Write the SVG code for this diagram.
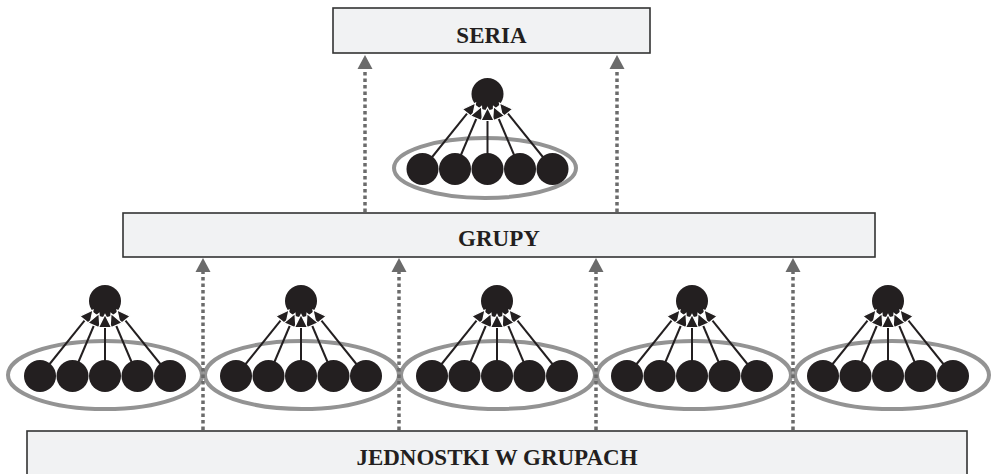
<svg xmlns="http://www.w3.org/2000/svg" xmlns:xlink="http://www.w3.org/1999/xlink" width="995" height="474" viewBox="0 0 995 474">
  <style>
    .box { fill: #f1f2f3; stroke: #333333; stroke-width: 1.6; }
    .label { font-family: "Liberation Serif", "Times New Roman", serif; font-weight: bold; font-size: 23px; fill: #231f20; text-anchor: middle; }
    .flow { stroke: #6b6b6b; stroke-width: 3.5; stroke-dasharray: 3.5 3; fill: none; }
    .flowhead { fill: #6b6b6b; }
    .ring { fill: none; stroke: #939393; stroke-width: 4; }
    .dot { fill: #231f20; }
    .link { stroke: #231f20; stroke-width: 2; }
    .head { fill: #231f20; stroke: #ffffff; stroke-width: 1.2; stroke-linejoin: miter; }
  </style>
  <defs>
    <!-- one aggregation unit: five members feeding one top node (origin = top node centre);
         arrowheads are painted over the lower rim of the top node -->
    <g id="unit">
      <circle class="dot" cx="0" cy="0" r="16"/>
      <line class="link" x1="-65" y1="75" x2="-20.1" y2="19.1"/>
      <line class="link" x1="65" y1="75" x2="20.1" y2="19.1"/>
      <line class="link" x1="-32.5" y1="75" x2="-11.1" y2="24.5"/>
      <line class="link" x1="32.5" y1="75" x2="11.1" y2="24.5"/>
      <line class="link" x1="0" y1="75" x2="0" y2="26.5"/>
      <polygon class="head" points="-12,9 -15.1,23.2 -25.2,15.1"/>
      <polygon class="head" points="12,9 15.1,23.2 25.2,15.1"/>
      <polygon class="head" points="-6,12.5 -5.1,27 -17.1,21.9"/>
      <polygon class="head" points="6,12.5 5.1,27 17.1,21.9"/>
      <polygon class="head" points="0,13.5 -6.5,26.5 6.5,26.5"/>
      <circle class="dot" cx="-65" cy="75" r="16"/>
      <circle class="dot" cx="-32.5" cy="75" r="16"/>
      <circle class="dot" cx="0" cy="75" r="16"/>
      <circle class="dot" cx="32.5" cy="75" r="16"/>
      <circle class="dot" cx="65" cy="75" r="16"/>
    </g>
    <!-- upward arrowhead for the dotted level connectors (tip at origin) -->
    <path id="upHead" class="flowhead" d="M0,0 L7.5,14 L-7.5,14 z"/>
  </defs>

  <!-- level boxes -->
  <g id="seria">
    <rect class="box" x="333" y="8" width="317" height="45"/>
    <text class="label" x="491.5" y="43">SERIA</text>
  </g>
  <g id="grupy">
    <rect class="box" x="123" y="213" width="752" height="44"/>
    <text class="label" x="499" y="246">GRUPY</text>
  </g>
  <g id="jednostki">
    <rect class="box" x="27" y="431" width="940" height="60"/>
    <text class="label" x="497" y="465">JEDNOSTKI W GRUPACH</text>
  </g>

  <!-- group-level unit -->
  <g id="unit-top">
    <ellipse class="ring" cx="485" cy="168" rx="91" ry="30"/>
    <use xlink:href="#unit" href="#unit" transform="translate(487.5,94)"/>
  </g>

  <!-- unit-level groups -->
  <g id="unit-1">
    <ellipse class="ring" cx="105" cy="375" rx="97" ry="34"/>
    <use xlink:href="#unit" href="#unit" transform="translate(105,301)"/>
  </g>
  <g id="unit-2">
    <ellipse class="ring" cx="302" cy="375" rx="97" ry="34"/>
    <use xlink:href="#unit" href="#unit" transform="translate(301,301)"/>
  </g>
  <g id="unit-3">
    <ellipse class="ring" cx="498" cy="375" rx="97" ry="34"/>
    <use xlink:href="#unit" href="#unit" transform="translate(497,301)"/>
  </g>
  <g id="unit-4">
    <ellipse class="ring" cx="694" cy="375" rx="97" ry="34"/>
    <use xlink:href="#unit" href="#unit" transform="translate(692,301)"/>
  </g>
  <g id="unit-5">
    <ellipse class="ring" cx="892" cy="375" rx="97" ry="34"/>
    <use xlink:href="#unit" href="#unit" transform="translate(888,301)"/>
  </g>

  <!-- dotted connectors between levels -->
  <g id="connectors">
    <line class="flow" x1="365" y1="212" x2="365" y2="69"/>
    <use xlink:href="#upHead" href="#upHead" x="365" y="55"/>
    <line class="flow" x1="617" y1="212" x2="617" y2="69"/>
    <use xlink:href="#upHead" href="#upHead" x="617" y="55"/>
    <line class="flow" x1="203" y1="430" x2="203" y2="272"/>
    <use xlink:href="#upHead" href="#upHead" x="203" y="258"/>
    <line class="flow" x1="399" y1="430" x2="399" y2="272"/>
    <use xlink:href="#upHead" href="#upHead" x="399" y="258"/>
    <line class="flow" x1="596" y1="430" x2="596" y2="272"/>
    <use xlink:href="#upHead" href="#upHead" x="596" y="258"/>
    <line class="flow" x1="793" y1="430" x2="793" y2="272"/>
    <use xlink:href="#upHead" href="#upHead" x="793" y="258"/>
  </g>
</svg>
